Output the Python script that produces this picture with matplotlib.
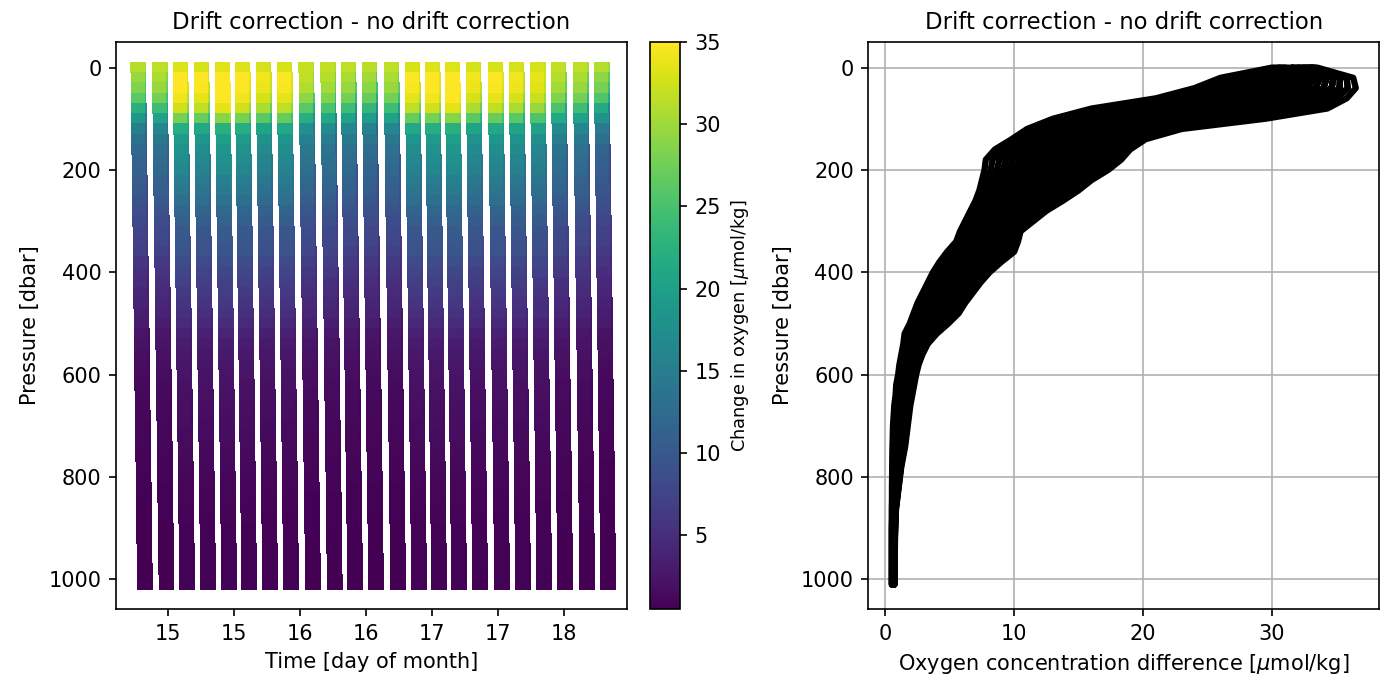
import numpy as np
import matplotlib
matplotlib.use('Agg')
import matplotlib.pyplot as plt
import matplotlib.dates as mdates
from matplotlib.ticker import MultipleLocator

# surface time (day of month, fractional) of each of the 23 glider dives
dive_day = [14.772, 14.935, 15.092, 15.251, 15.410, 15.562, 15.721, 15.880,
            16.045, 16.210, 16.364, 16.523, 16.690, 16.849, 17.001, 17.152,
            17.311, 17.478, 17.637, 17.797, 17.956, 18.123, 18.282]
dive_span = 0.05  # days from surface to 1000 dbar

# sampling pressure levels [dbar]
pres = [0, 20, 40, 60, 80, 100, 120, 140, 160, 180, 200, 220, 240, 260, 280,
        300, 320, 340, 360, 380, 400, 420, 440, 460, 480, 500, 520, 540, 560,
        580, 600, 620, 640, 660, 680, 700, 720, 740, 760, 780, 800, 820, 840,
        860, 880, 900, 920, 940, 960, 980, 1000, 1010]

# lower / upper envelope of oxygen difference at each level [umol/kg]
o2_low = [30.0, 26.0, 24.0, 21.0, 16.0, 13.0, 11.0, 9.8, 8.5, 7.8, 7.7, 7.5,
          7.3, 7.0, 6.6, 6.2, 5.8, 5.5, 4.8, 4.2, 3.7, 3.3, 2.9, 2.5, 2.2,
          1.9, 1.5, 1.4, 1.25, 1.1, 1.0, 0.85, 0.8, 0.7, 0.65, 0.6, 0.58,
          0.56, 0.55, 0.54, 0.53, 0.52, 0.52, 0.51, 0.51, 0.5, 0.5, 0.5, 0.5,
          0.5, 0.5, 0.5]
o2_high = [33.5, 36.3, 36.5, 35.8, 34.3, 29.5, 23.0, 20.2, 19.0, 18.3, 17.3,
           16.0, 15.0, 13.8, 12.5, 11.5, 10.5, 10.3, 10.0, 9.0, 8.1, 7.4, 6.8,
           6.2, 5.7, 4.9, 4.0, 3.3, 2.9, 2.6, 2.4, 2.25, 2.1, 1.95, 1.85, 1.75,
           1.65, 1.55, 1.4, 1.25, 1.15, 1.05, 0.95, 0.85, 0.8, 0.78, 0.76,
           0.75, 0.74, 0.73, 0.72, 0.72]

# position of each cast inside the envelope (0 = low edge, 1 = high edge)
down_w = [0.35, 0.45, 0.90, 0.85, 0.95, 0.90, 0.80, 0.85, 0.55, 0.50, 0.45, 0.40,
          0.45, 0.85, 0.90, 0.95, 0.80, 0.85, 0.80, 0.75, 0.50, 0.45, 0.30]
up_w = [0.10, 0.25, 0.70, 0.65, 1.00, 0.75, 0.60, 0.70, 0.30, 0.20, 0.15, 0.05,
        0.20, 0.65, 0.75, 0.90, 0.60, 0.70, 0.55, 0.60, 0.25, 0.15, 0.00]

pres = np.array(pres, dtype=float)
o2_low = np.array(o2_low)
o2_high = np.array(o2_high)
base = mdates.date2num(np.datetime64('2021-06-01'))
cast_gap = 0.012

# upcasts first so the downcasts sit on top in the time plot
times, depths, vals, casts = [], [], [], []
for k, weights in enumerate([up_w, down_w]):
    for d, w in zip(dive_day, weights):
        o2 = o2_low + w * (o2_high - o2_low)
        t = base + d - 1 + pres / 1000 * dive_span + (1 - k) * cast_gap
        times.append(t)
        depths.append(pres)
        vals.append(o2)
        casts.append(o2)
times = np.concatenate(times)
depths = np.concatenate(depths)
vals = np.concatenate(vals)

# flat block marker so the samples stack into solid columns
block = [(-0.5, -0.4), (0.5, -0.4), (0.5, 0.4), (-0.5, 0.4), (-0.5, -0.4)]

fig = plt.figure(figsize=(1390 / 150, 687 / 150), dpi=150)
ax = fig.add_axes([0.0835, 0.1135, 0.3676, 0.8254])
cax = fig.add_axes([0.4676, 0.1135, 0.0216, 0.8254])
ax2 = fig.add_axes([0.6248, 0.1135, 0.3673, 0.8254])

sc = ax.scatter(times, depths, c=vals, cmap='viridis', vmax=35, s=46,
                marker=block, linewidths=0)
ax.set_ylim(1058, -50)
ax.set_xlim(base + 14.610 - 1, base + 18.48 - 1)
ax.xaxis.set_major_locator(mdates.HourLocator(byhour=[0, 12]))
ax.xaxis.set_major_formatter(mdates.DateFormatter('%d'))
ax.set_xlabel('Time [day of month]')
ax.set_ylabel('Pressure [dbar]')
ax.set_title('Drift correction - no drift correction', fontsize=10.9)
cb = fig.colorbar(sc, cax=cax)
cb.set_label(r'Change in oxygen [$\mu$mol/kg]', fontsize=8.5)

for o2 in casts:
    ax2.plot(o2, pres, color='k', lw=3.0, solid_capstyle='round',
             solid_joinstyle='round')
ax2.set_ylim(1058, -50)
ax2.set_xlim(-1.3, 38.3)
ax2.xaxis.set_major_locator(MultipleLocator(10))
ax2.grid(True)
ax2.set_axisbelow(True)
ax2.set_xlabel(r'Oxygen concentration difference [$\mu$mol/kg]')
ax2.set_ylabel('Pressure [dbar]')
ax2.set_title('Drift correction - no drift correction', fontsize=10.9)

fig.savefig('out.png', dpi=150)
